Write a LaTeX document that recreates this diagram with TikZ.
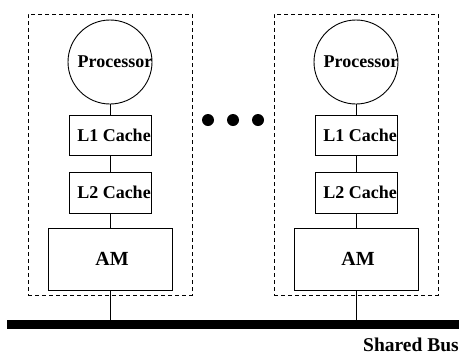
\documentclass[tikz,border=0pt]{standalone}
\usepackage{fontspec}
\setmainfont{Liberation Serif}
\begin{document}
\begin{tikzpicture}[x=1pt,y=-1pt,
  part/.style={draw, line width=0.9pt, inner sep=0pt},
  proc/.style={part, circle, minimum size=84pt},
  cachebox/.style={part, rectangle, minimum width=82pt, minimum height=40pt},
  ambox/.style={part, rectangle, minimum width=124pt, minimum height=62pt},
  group/.style={draw, dash pattern=on 4pt off 3pt, line width=0.8pt, rectangle, minimum width=164pt, minimum height=281pt, inner sep=0pt},
  lbl/.style={inner sep=0pt, font=\bfseries\fontsize{18}{20}\selectfont},
  amlbl/.style={inner sep=0pt, font=\bfseries\fontsize{20}{22}\selectfont},
  dotnode/.style={circle, fill, minimum size=12pt, inner sep=0pt},
  link/.style={line width=0.9pt}]
\useasboundingbox (0,0) rectangle (463,354);
% bus
\node[fill, rectangle, minimum width=452pt, minimum height=9pt, inner sep=0pt] (bus) at (233,324.5) {};
\node[anchor=base east, inner sep=0pt, font=\bfseries\fontsize{19.5}{21}\selectfont] (buslbl) at (459,351) {Shared Bus};
\foreach \cx/\n in {110/A,356/B}{
  \node[group] (grp\n) at (\cx,154.5) {};
  \node[proc] (proc\n) at (\cx,62) {};
  \node[lbl] (proclbl\n) at (\cx+5,62) {Processor};
  \node[cachebox] (lone\n) at (\cx,135) {};
  \node[lbl] (lonelbl\n) at (\cx+4,135) {L1 Cache};
  \node[cachebox, minimum height=41pt] (ltwo\n) at (\cx,192.5) {};
  \node[lbl] (ltwolbl\n) at (\cx+4,192.5) {L2 Cache};
  \node[ambox] (am\n) at (\cx,259) {};
  \node[amlbl] (amlbl\n) at (\cx+2,259) {AM};
  \draw[link] (proc\n.south) -- (lone\n.north);
  \draw[link] (lone\n.south) -- (ltwo\n.north);
  \draw[link] (ltwo\n.south) -- (am\n.north);
  \draw[link] (am\n.south) -- (am\n.south |- bus.north);
}
\node[dotnode] (dotone) at (208,120) {};
\node[dotnode] (dottwo) at (233,120) {};
\node[dotnode] (dotthree) at (258,120) {};
\end{tikzpicture}
\end{document}
